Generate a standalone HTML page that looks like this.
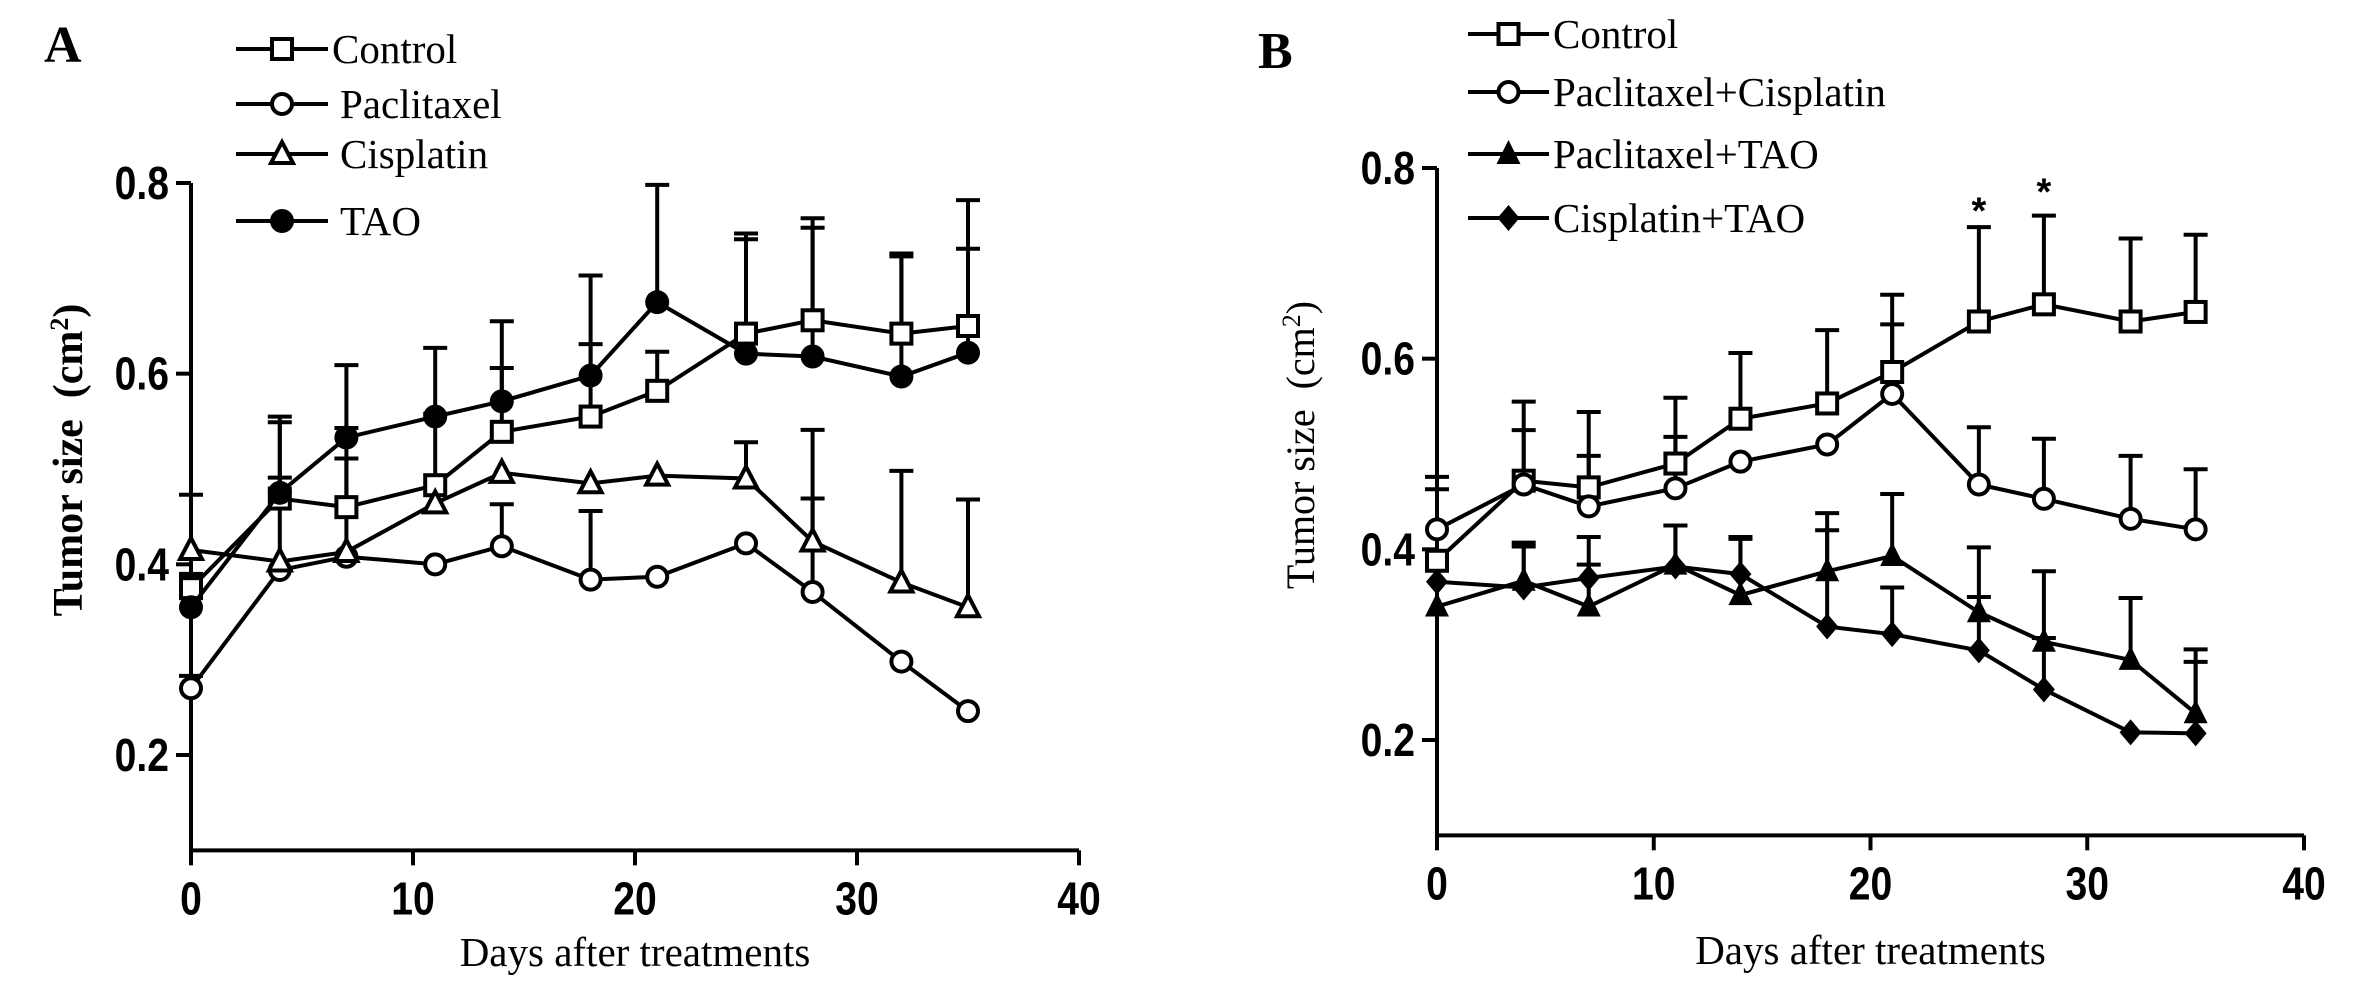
<!DOCTYPE html>
<html><head><meta charset="utf-8"><style>
html,body{margin:0;padding:0;background:#fff;}
svg{display:block;}
</style></head><body>
<svg id="fig" width="2362" height="984" viewBox="0 0 2362 984" xmlns="http://www.w3.org/2000/svg"></svg>
<script>
const days = [0,4,7,11,14,18,21,25,28,32,35];
const xTicks = [0,10,20,30,40];
const yTicks = [0.2,0.4,0.6,0.8];
const yTickLabels = ["0.2","0.4","0.6","0.8"];
// Panel A
const aControl = [0.375,0.469,0.46,0.483,0.539,0.555,0.582,0.642,0.656,0.642,0.65];
const aControlErr = [0.015,0.08,0.083,0.075,0.067,0.076,0.041,0.105,0.107,0.084,0.132];
const aPac = [0.27,0.394,0.408,0.40,0.419,0.384,0.387,0.422,0.371,0.298,0.246];
const aPacErr = [0.013,0,0,0,0.044,0.072,0,0,0.098,0,0];
const aCis = [0.415,0.403,0.413,0.464,0.496,0.485,0.493,0.49,0.424,0.381,0.355];
const aCisErr = [0.058,0.088,0.098,0,0,0,0,0.038,0.117,0.117,0.113];
const aTao = [0.355,0.475,0.533,0.555,0.571,0.598,0.675,0.621,0.618,0.597,0.622];
const aTaoErr = [0.033,0.08,0.076,0.072,0.084,0.105,0.123,0.12,0.135,0.126,0.109];
// Panel B
const bControl = [0.388,0.472,0.465,0.49,0.537,0.553,0.586,0.639,0.657,0.639,0.649];
const bControlErr = [0.075,0.083,0.079,0.069,0.069,0.077,0.081,0.099,0.093,0.087,0.081];
const bPC = [0.421,0.468,0.445,0.464,0.492,0.51,0.563,0.468,0.453,0.432,0.421];
const bPCErr = [0.055,0.057,0.053,0.054,0,0,0.073,0.06,0.063,0.066,0.063];
const bPT = [0.34,0.367,0.34,0.384,0.352,0.377,0.393,0.334,0.303,0.284,0.228];
const bPTErr = [0,0.04,0.073,0.041,0.061,0.061,0.065,0.068,0.074,0.065,0.067];
const bCT = [0.366,0.36,0.37,0.382,0.374,0.319,0.311,0.294,0.253,0.208,0.207];
const bCTErr = [0,0.043,0.014,0.043,0.037,0.101,0.049,0.056,0.054,0,0.075];
const starDays = [25,28];
const starVals = [0.765,0.785];

const NS="http://www.w3.org/2000/svg";
const svg=document.getElementById('fig');
function mk(tag,attrs,parent){const e=document.createElementNS(NS,tag);for(const k in attrs)e.setAttribute(k,attrs[k]);(parent||svg).appendChild(e);return e;}
const SW=4;
function panel(cfg){
  const g=mk('g',{});
  
  
  const xS=d=>cfg.x0+(d-0)*(cfg.x40-cfg.x0)/40;
  const yS=v=>cfg.y02+(0.2-v)*(cfg.y02-cfg.y08)/0.6;
  const bottom=yS(0.1);
  const ax=mk('path',{d:`M${xS(0)} ${yS(0.8)}V${bottom}H${xS(40)}`,stroke:'#000','stroke-width':SW,fill:'none'},g);
  
  
  xTicks.forEach(t=>{
    mk('line',{x1:xS(t),x2:xS(t),y1:bottom,y2:bottom+15,stroke:'#000','stroke-width':SW},g);
    const tx=mk('text',{x:0,y:0,transform:`translate(${xS(t)},${bottom+64}) scale(0.85,1)`,'text-anchor':'middle','font-family':'Liberation Sans, sans-serif','font-weight':'bold','font-size':46},g);
    tx.textContent=t;
    
    
  });
  yTicks.forEach((t,i)=>{
    mk('line',{x1:xS(0)-15,x2:xS(0),y1:yS(t),y2:yS(t),stroke:'#000','stroke-width':SW},g);
    const tx=mk('text',{x:0,y:0,transform:`translate(${xS(0)-22},${yS(t)+16}) scale(0.85,1)`,'text-anchor':'end','font-family':'Liberation Sans, sans-serif','font-weight':'bold','font-size':46},g);
    tx.textContent=yTickLabels[i];
    
    
  });
  cfg.series.forEach(s=>{
    s.vals.forEach((v,i)=>{
      const e=s.err[i]; if(!e) return;
      const x=xS(days[i]);
      mk('path',{d:`M${x} ${yS(v)}V${yS(v+e)}M${x-12} ${yS(v+e)}H${x+12}`,stroke:'#000','stroke-width':SW,fill:'none'},g);
    });
  });
  cfg.series.forEach(s=>{
    const pts=s.vals.map((v,i)=>[xS(days[i]),yS(v)]);
    const l=mk('polyline',{points:pts.map(p=>p.join(',')).join(' '),stroke:'#000','stroke-width':SW,fill:'none'},g);
    
    
    pts.forEach(p=>{const m=marker(g,s.m,p[0],p[1]);});
  });
  cfg.series.forEach((s,i)=>{
    const y=cfg.legY[i];
    mk('line',{x1:cfg.legX1,x2:cfg.legX2,y1:y,y2:y,stroke:'#000','stroke-width':SW},g);
    marker(g,s.m,(cfg.legX1+cfg.legX2)/2,y);
    const t=mk('text',{x:cfg.legX2+4+(i==0?0:cfg.indent),y:y+14,'font-family':'Liberation Serif, serif','font-size':41},g);
    t.textContent=s.label;
    
    
  });
  const xt=mk('text',{x:(xS(0)+xS(40))/2,y:cfg.xTitleY,'text-anchor':'middle','font-family':'Liberation Serif, serif','font-size':41},g);
  xt.textContent='Days after treatments';
  
  
  const yt=mk('text',{x:0,y:0,transform:`translate(${cfg.yTitleX},${cfg.yTitleY}) rotate(-90)`,'text-anchor':'middle','font-family':'Liberation Serif, serif','font-size':cfg.yBold?42:40,'font-weight':cfg.yBold?'bold':'normal'},g);
  yt.innerHTML='Tumor size&#160;&#160;(cm<tspan baseline-shift="super" font-size="26">2</tspan>)';
  
  
  const pl=mk('text',{x:cfg.letterX,y:cfg.letterY,'font-family':'Liberation Serif, serif','font-weight':'bold','font-size':52},g);
  pl.textContent=cfg.letter;
  
  
  return {g,xS,yS};
}
function marker(g,type,x,y){
  if(type==='sq') return mk('rect',{x:x-10,y:y-10,width:20,height:20,fill:'#fff',stroke:'#000','stroke-width':SW},g);
  if(type==='oc') return mk('circle',{cx:x,cy:y,r:10,fill:'#fff',stroke:'#000','stroke-width':SW},g);
  if(type==='fc') return mk('circle',{cx:x,cy:y,r:12,fill:'#000'},g);
  if(type==='ot') return mk('path',{d:`M${x} ${y-12}L${x+11} ${y+9}H${x-11}Z`,fill:'#fff',stroke:'#000','stroke-width':SW},g);
  if(type==='ft') return mk('path',{d:`M${x} ${y-14}L${x+12} ${y+10}H${x-12}Z`,fill:'#000'},g);
  if(type==='fd') return mk('path',{d:`M${x} ${y-13}L${x+11} ${y}L${x} ${y+13}L${x-11} ${y}Z`,fill:'#000'},g);
}
panel({name:'panel-a',letter:'A',letterX:44,letterY:62,x0:191,x40:1079,y08:183,y02:755,
  legX1:236,legX2:328,legY:[49,104,154,221],indent:8,xTitleY:966,yTitleX:82,yTitleY:460,yBold:true,
  series:[{key:'control',label:'Control',m:'sq',vals:aControl,err:aControlErr},
          {key:'paclitaxel',label:'Paclitaxel',m:'oc',vals:aPac,err:aPacErr},
          {key:'cisplatin',label:'Cisplatin',m:'ot',vals:aCis,err:aCisErr},
          {key:'tao',label:'TAO',m:'fc',vals:aTao,err:aTaoErr}]});
const pb=panel({name:'panel-b',letter:'B',letterX:1258,letterY:68,x0:1437,x40:2304,y08:168,y02:740,
  legX1:1468,legX2:1549,legY:[34,92,154,218],indent:0,xTitleY:964,yTitleX:1314,yTitleY:445,yBold:false,
  series:[{key:'control',label:'Control',m:'sq',vals:bControl,err:bControlErr},
          {key:'paclitaxel-cisplatin',label:'Paclitaxel+Cisplatin',m:'oc',vals:bPC,err:bPCErr},
          {key:'paclitaxel-tao',label:'Paclitaxel+TAO',m:'ft',vals:bPT,err:bPTErr},
          {key:'cisplatin-tao',label:'Cisplatin+TAO',m:'fd',vals:bCT,err:bCTErr}]});
starDays.forEach((d,i)=>{
  const s=mk('text',{x:pb.xS(d),y:pb.yS(starVals[i])+22,'text-anchor':'middle','font-family':'Liberation Sans, sans-serif','font-weight':'bold','font-size':38},pb.g);
  s.textContent='*';
  
  
});
</script>
</body></html>
